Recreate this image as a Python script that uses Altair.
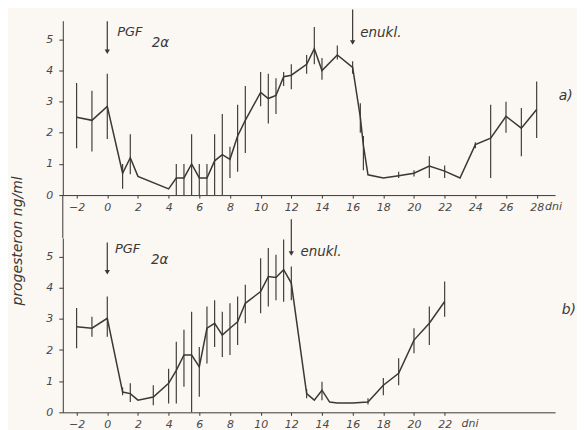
import altair as alt
import pandas as pd

# ---------------- data ----------------
# panel a)
day_a = [-2, -1, 0, 1, 1.5, 2, 4, 4.5, 5, 5.5, 6, 6.5, 7, 7.5, 8, 8.5, 9, 10, 10.5, 11, 11.5, 12,
         13, 13.5, 14, 15, 16, 16.5, 16.7, 17, 18, 19, 20, 21, 22, 23, 24, 25, 26, 27, 28]
val_a = [2.5, 2.4, 2.85, 0.7, 1.2, 0.6, 0.2, 0.55, 0.55, 1.0, 0.55, 0.55, 1.1, 1.3, 1.15, 1.9, 2.4,
         3.3, 3.1, 3.2, 3.8, 3.85, 4.2, 4.7, 4.0, 4.5, 4.1, 2.5, 1.6, 0.65, 0.55, 0.62, 0.7, 0.93,
         0.77, 0.55, 1.62, 1.83, 2.53, 2.15, 2.75]
err_day_a = [-2, -1, 0, 1, 1.5, 4.5, 5, 5.5, 6, 6.5, 7, 7.5, 8, 8.5, 9, 10, 10.5, 11, 11.5, 12,
             13, 13.5, 14, 15, 16, 16.5, 16.7, 19, 20, 21, 22, 24, 25, 26, 27, 28]
err_lo_a = [1.5, 1.4, 1.8, 0.2, 0.67, 0, 0, 0, 0, 0, 0, 0, 0.55, 0.75, 1.35, 2.85, 2.3, 2.6, 3.5, 3.4,
            3.9, 4.2, 3.7, 4.35, 3.9, 2.0, 0.8, 0.55, 0.6, 0.55, 0.55, 1.5, 0.55, 2.0, 1.25, 1.83]
err_hi_a = [3.6, 3.35, 3.9, 1.0, 1.95, 1.0, 1.0, 1.95, 1.0, 1.0, 1.95, 2.6, 1.55, 2.9, 3.5, 3.95, 3.9,
            3.75, 3.95, 4.2, 4.5, 5.4, 4.4, 4.8, 4.3, 2.95, 1.9, 0.75, 0.8, 1.25, 0.95, 1.7, 2.9,
            3.0, 2.8, 3.65]

# panel b)
day_b = [-2, -1, 0, 1, 1.5, 2, 3, 4, 4.5, 5, 5.5, 6, 6.5, 7, 7.5, 8, 8.5, 9, 10, 10.5, 11, 11.5, 12,
         13, 13.5, 14, 14.5, 15, 16, 17, 18, 19, 20, 21, 22]
val_b = [2.75, 2.7, 3.02, 0.65, 0.6, 0.39, 0.49, 0.93, 1.35, 1.84, 1.84, 1.46, 2.7, 2.86, 2.48, 2.7,
         2.91, 3.5, 3.88, 4.36, 4.33, 4.58, 4.15, 0.6, 0.39, 0.71, 0.33, 0.3, 0.3, 0.33, 0.87, 1.25,
         2.32, 2.86, 3.56]
err_day_b = [-2, -1, 0, 1, 1.5, 3, 4, 4.5, 5, 5.5, 6, 6.5, 7, 7.5, 8, 8.5, 9, 10, 10.5, 11, 11.5, 12,
             13, 14, 17, 18, 19, 20, 21, 22]
err_lo_b = [2.06, 2.43, 2.43, 0.55, 0.33, 0.23, 0.28, 0.28, 0.82, 0.0, 0.5, 1.57, 2.1, 1.78, 1.84,
            2.16, 2.86, 3.18, 3.4, 3.6, 3.55, 3.6, 0.45, 0.39, 0.25, 0.55, 0.87, 1.9, 2.16, 3.07]
err_hi_b = [3.35, 3.07, 3.72, 0.8, 0.93, 0.87, 1.4, 2.27, 2.65, 3.23, 2.1, 3.4, 3.6, 3.23, 3.5, 3.72,
            4.1, 4.95, 5.28, 5.06, 5.55, 4.68, 0.75, 0.98, 0.45, 1.1, 1.74, 2.7, 3.4, 4.2]

# annotation arrows (day, top, tip)
arrow_day_a = [0, 16]
arrow_top_a = [5.58, 5.96]
arrow_tip_a = [4.6, 4.9]
arrow_day_b = [0, 12]
arrow_top_b = [5.45, 6.2]
arrow_tip_b = [4.5, 5.1]

ticks_a = list(range(-2, 29, 2))
ticks_b = list(range(-2, 23, 2))
y_ticks = [0, 1, 2, 3, 4, 5]

INK = "#3a3735"
LAB = "#4a4746"
FONT = "DejaVu Sans"
W, H = 494, 175
GAP = 43
x_scale = alt.Scale(domain=[-2.9, 29.2], nice=False, zero=False)
y_scale = alt.Scale(domain=[0, 5.6], nice=False, zero=False)


def X(field, ticks):
    return alt.X(f"{field}:Q", scale=x_scale, title=None,
                 axis=alt.Axis(values=ticks, grid=False, tickSize=3, labelPadding=3,
                               labelFont=FONT, labelFontStyle="italic", labelFontSize=11,
                               labelColor=LAB, domainColor=INK, tickColor=INK,
                               labelFlush=False))


def Y(field):
    return alt.Y(f"{field}:Q", scale=y_scale, title=None,
                 axis=alt.Axis(values=y_ticks, grid=False, tickSize=4, labelPadding=6,
                               labelFont=FONT, labelFontStyle="italic", labelFontSize=11,
                               labelColor=LAB, domainColor=INK, tickColor=INK))


def panel(day, val, ed, elo, ehi, ad, atop, atip, ticks, pgf_pos, enukl_pos, tag, tag_pos, dni_day):
    line_df = pd.DataFrame({"day": day, "val": val})
    err_df = pd.DataFrame({"day": ed, "lo": elo, "hi": ehi})
    arr_df = pd.DataFrame({"day": ad, "top": atop, "tip": atip})

    line = alt.Chart(line_df).mark_line(color=INK, strokeWidth=1.5).encode(
        x=X("day", ticks), y=Y("val"))
    err = alt.Chart(err_df).mark_rule(color=INK, strokeWidth=1.15).encode(
        x=X("day", ticks), y=Y("lo"), y2="hi:Q")
    arr = alt.Chart(arr_df).mark_rule(color=INK, strokeWidth=1.2).encode(
        x=X("day", ticks), y=Y("top"), y2="tip:Q")
    head = alt.Chart(arr_df).mark_point(shape="triangle-down", filled=True, size=28,
                                        color=INK, opacity=1).encode(
        x=X("day", ticks), y=Y("tip"))

    txt_df = pd.DataFrame({
        "day": [pgf_pos[0], pgf_pos[2], enukl_pos[0]],
        "val": [pgf_pos[1], pgf_pos[3], enukl_pos[1]],
        "t": ["PGF", "2\u03b1", "enukl."],
        "s": [13, 13.5, 13.5],
    })
    txt = alt.Chart(txt_df).mark_text(align="left", baseline="middle", font=FONT,
                                      fontStyle="italic", color=INK).encode(
        x=X("day", ticks), y=Y("val"), text="t:N",
        size=alt.Size("s:Q", scale=None, legend=None))

    tag_df = pd.DataFrame({"day": [tag_pos[0]], "val": [tag_pos[1]], "t": [tag]})
    tagm = alt.Chart(tag_df).mark_text(font=FONT, fontStyle="italic", fontSize=14,
                                       color=INK, baseline="middle").encode(
        x=X("day", ticks), y=Y("val"), text="t:N")

    dni_df = pd.DataFrame({"day": [dni_day], "t": ["dni"]})
    dni = alt.Chart(dni_df).mark_text(font=FONT, fontStyle="italic", fontSize=11,
                                      color=LAB, align="left", baseline="top").encode(
        x=X("day", ticks), y=alt.value(H + 6), text="t:N")

    return line, err, arr, head, txt, tagm, dni


pa = panel(day_a, val_a, err_day_a, err_lo_a, err_hi_a, arrow_day_a, arrow_top_a, arrow_tip_a,
           ticks_a, (0.65, 5.25, 2.9, 4.87), (16.5, 5.2), "a)", (29.9, 3.17), 28.55)
pb = panel(day_b, val_b, err_day_b, err_lo_b, err_hi_b, arrow_day_b, arrow_top_b, arrow_tip_b,
           ticks_b, (0.5, 5.26, 2.85, 4.9), (12.6, 5.16), "b)", (30.1, 3.3), 23.1)

# the vertical axis line of the original runs on unbroken between the two panels
join = alt.Chart(pd.DataFrame({"k": [0]})).mark_rule(color=INK, strokeWidth=1).encode(
    x=alt.value(0), y=alt.value(H), y2=alt.value(H + GAP))

ylab = alt.Chart(pd.DataFrame({"t": ["progesteron ng/ml"]})).mark_text(
    angle=270, font=FONT, fontStyle="italic", fontSize=14, color=INK,
    baseline="middle", align="center").encode(
    text="t:N", x=alt.value(-45), y=alt.value(3))

top = alt.layer(*pa, join).properties(width=W, height=H)
bottom = alt.layer(*pb, ylab).properties(width=W, height=H)

chart = alt.vconcat(top, bottom, spacing=GAP, bounds="flush").properties(
    background="#fbf7f3",
    padding={"left": 2, "top": 0, "right": 0, "bottom": 0},
).configure_view(stroke=None)

chart.save("out.html", embed_options={"renderer": "svg", "actions": False})
